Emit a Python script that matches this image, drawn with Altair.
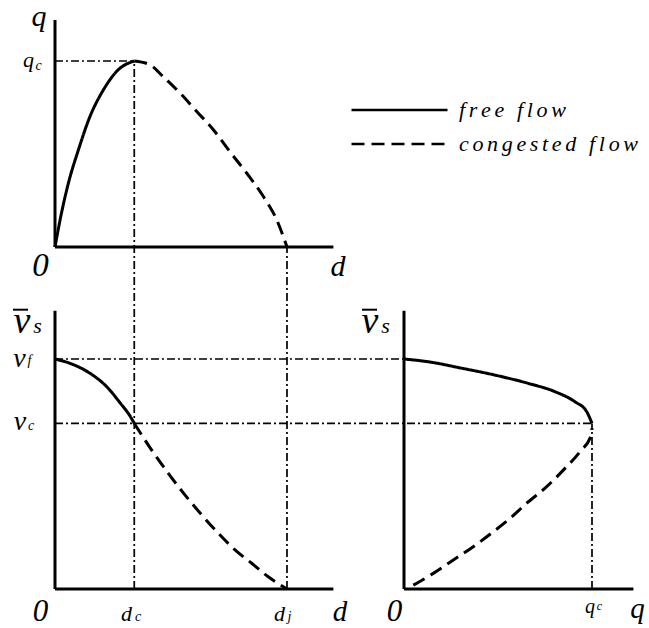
import altair as alt
import pandas as pd

W, H = 649, 628

# characteristic values: density (veh/km), space-mean speed (km/h), flow (veh/h)
d_c, d_j = 41, 120
v_f, v_c = 100, 72
q_c = 2950

# flow against density
qd_free_d = [0, 3.5, 6.9, 12.1, 18.1, 25.0, 32.7, 41]
qd_free_q = [0, 560, 1010, 1540, 2070, 2490, 2810, 2950]
qd_cong_d = [41, 49.1, 56.0, 64.7, 73.3, 81.9, 90.5, 99.2, 107.8, 114.7, 120]
qd_cong_q = [2950, 2890, 2700, 2440, 2150, 1860, 1510, 1170, 800, 430, 0]

# speed against density
vd_free_d = [0, 7.8, 18.1, 26.7, 33.6, 38.8, 41]
vd_free_v = [100, 98.1, 93.8, 88.0, 81.0, 75.2, 72]
vd_cong_d = [41, 50.0, 58.6, 67.2, 75.9, 84.5, 93.1, 101.7, 110.3, 120]
vd_cong_v = [72, 60.4, 50.3, 40.9, 32.2, 24.2, 17.0, 11.2, 5.3, 0]

# speed against flow
vq_free_q = [0, 381, 905, 1428, 1950, 2369, 2683, 2867, 2950]
vq_free_v = [100, 98.8, 96.0, 93.0, 89.4, 85.8, 81.4, 77.1, 72]
vq_cong_q = [146, 460, 774, 1087, 1401, 1663, 1925, 2239, 2500, 2762, 2940, 2950]
vq_cong_v = [1.7, 6.8, 12.6, 18.4, 24.9, 30.7, 37.3, 44.5, 51.7, 59.7, 67.0, 70]

regimes = ["free flow", "congested flow"]

# length of the drawn axes
d_axis_end, q_axis_end, v_axis_end = 144, 3600, 121

# placement of each panel in the view: (pixel of 0, pixel of reference, reference value)
left_x = (55, 287, d_j)
right_x = (404, 592, q_c)
top_y = (247, 61, q_c)
bottom_y = (589, 359, v_f)


def to_value(px, place):
    p0, p1, ref = place
    return (px - p0) / (p1 - p0) * ref


def to_px(value, place):
    p0, p1, ref = place
    return p0 + value / ref * (p1 - p0)


MATH_FONT = "Liberation Serif, Times New Roman, serif"
DASH_DOT = [8, 3, 2, 3]

dash_scale = alt.Scale(domain=regimes, range=[[1, 0], [13, 7]])
legend = alt.Legend(
    orient="none", legendX=350, legendY=93, title=None, padding=0,
    symbolType="stroke", symbolSize=9216, symbolStrokeWidth=2.5,
    symbolStrokeColor="black", labelFont=MATH_FONT, labelFontStyle="italic",
    labelFontSize=22, labelColor="black", labelOffset=10, labelLimit=400,
    clipHeight=34, rowPadding=0,
    # widely tracked lettering
    labelExpr="join(split(datum.label, ''), '\u2006')",
)


def curves_frame(free_x, free_y, cong_x, cong_y):
    rows = []
    for name, xs, ys in ((regimes[0], free_x, free_y), (regimes[1], cong_x, cong_y)):
        for i, (a, b) in enumerate(zip(xs, ys)):
            rows.append({"x": a, "y": b, "regime": name, "i": i})
    return pd.DataFrame(rows)


def segments(items):
    return pd.DataFrame(items, columns=["x", "x2", "y", "y2"])


def panel(xp, yp, curves, axes, guides, labels, bars):
    xs = alt.Scale(domain=[to_value(0, xp), to_value(W, xp)], nice=False, zero=False)
    ys = alt.Scale(domain=[to_value(H, yp), to_value(0, yp)], nice=False, zero=False)

    def X(f):
        return alt.X(f, type="quantitative", scale=xs, axis=None)

    def Y(f):
        return alt.Y(f, type="quantitative", scale=ys, axis=None)

    # overbars of symbols: anchor value plus a pixel offset, turned back into values
    bar_rows = []
    for xa, ya, dx0, dx1, dy in bars:
        bx = to_px(xa, xp)
        by = to_px(ya, yp) + dy
        bar_rows.append((to_value(bx + dx0, xp), to_value(bx + dx1, xp),
                         to_value(by, yp), to_value(by, yp)))

    layers = [
        alt.Chart(guides).mark_rule(color="black", strokeWidth=1.7, strokeDash=DASH_DOT)
        .encode(x=X("x"), x2="x2", y=Y("y"), y2="y2"),
        alt.Chart(axes).mark_rule(color="black", strokeWidth=3)
        .encode(x=X("x"), x2="x2", y=Y("y"), y2="y2"),
        alt.Chart(curves).mark_line(color="black", strokeWidth=3, interpolate="monotone")
        .encode(
            x=X("x"), y=Y("y"),
            strokeDash=alt.StrokeDash("regime:N", scale=dash_scale, legend=legend),
            order=alt.Order("i:Q"),
        ),
    ]
    if bar_rows:
        layers.append(
            alt.Chart(segments(bar_rows)).mark_rule(color="black", strokeWidth=2)
            .encode(x=X("x"), x2="x2", y=Y("y"), y2="y2")
        )
    for text, xv, yv, dx, dy, size in labels:
        layers.append(
            alt.Chart(pd.DataFrame({"x": [xv], "y": [yv], "t": [text]}))
            .mark_text(font=MATH_FONT, fontStyle="italic", fontSize=size, dx=dx, dy=dy,
                       align="center", baseline="alphabetic", color="black")
            .encode(x=X("x"), y=Y("y"), text="t:N")
        )
    return alt.layer(*layers)


NU = "\u03bd"

# flow-density panel
top = panel(
    left_x, top_y,
    curves_frame(qd_free_d, qd_free_q, qd_cong_d, qd_cong_q),
    segments([(0, 0, 0, q_axis_end), (0, d_axis_end, 0, 0)]),
    segments([(0, d_c, q_c, q_c)]),
    [
        ("q", 0, q_axis_end, -16, 6, 30),
        ("q", 0, q_c, -26.5, 6, 22),
        ("c", 0, q_c, -16.5, 9, 14),
        ("0", 0, 0, -14.5, 29, 33),
        ("d", d_axis_end, 0, 4.6, 29, 30),
    ],
    [],
)

# speed-density panel; its vertical guides reach up to the flow-density panel
v_at_qc = to_value(to_px(q_c, top_y), bottom_y)
v_at_top_axis = to_value(to_px(0, top_y), bottom_y)
d_at_right_axis = to_value(to_px(0, right_x), left_x)
d_at_right_qc = to_value(to_px(q_c, right_x), left_x)

bottom_left = panel(
    left_x, bottom_y,
    curves_frame(vd_free_d, vd_free_v, vd_cong_d, vd_cong_v),
    segments([(0, 0, 0, v_axis_end), (0, d_axis_end, 0, 0)]),
    segments([
        (d_c, d_c, 0, v_at_qc),
        (d_j, d_j, 0, v_at_top_axis),
        (0, d_at_right_axis, v_f, v_f),
        (0, d_at_right_qc, v_c, v_c),
    ]),
    [
        (NU, 0, v_axis_end, -33, 22, 38),
        ("s", 0, v_axis_end, -17.5, 22, 22),
        (NU, 0, v_f, -35.5, 8, 28),
        ("f", 0, v_f, -25.5, 6, 14),
        (NU, 0, v_c, -35, 7, 28),
        ("c", 0, v_c, -24, 7, 14),
        ("0", 0, 0, -14.5, 32, 31),
        ("d", d_c, 0, -7.8, 32, 22),
        ("c", d_c, 0, 3.8, 32, 14),
        ("d", d_j, 0, -7.5, 32, 22),
        ("j", d_j, 0, 2.5, 32, 14),
        ("d", d_axis_end, 0, 6.6, 32, 29),
    ],
    [(0, v_axis_end, -42, -27, -1)],
)

# speed-flow panel
right = panel(
    right_x, bottom_y,
    curves_frame(vq_free_q, vq_free_v, vq_cong_q, vq_cong_v),
    segments([(0, 0, 0, v_axis_end), (0, q_axis_end, 0, 0)]),
    segments([(q_c, q_c, 0, v_c)]),
    [
        (NU, 0, v_axis_end, -34, 22, 38),
        ("s", 0, v_axis_end, -18.5, 22, 22),
        ("0", 0, 0, -9.5, 32, 31),
        ("q", q_c, 0, -2, 24, 20),
        ("c", q_c, 0, 7.5, 21, 12),
        ("q", q_axis_end, 0, 4, 29, 29),
    ],
    [(0, v_axis_end, -42, -27, -1)],
)

chart = (
    alt.layer(top, bottom_left, right)
    .resolve_scale(x="independent", y="independent")
    .properties(width=W, height=H, autosize=alt.AutoSizeParams(type="none"), padding=0)
    .configure_view(stroke=None)
)

chart.save("out.html", embed_options={"renderer": "svg", "actions": False})
